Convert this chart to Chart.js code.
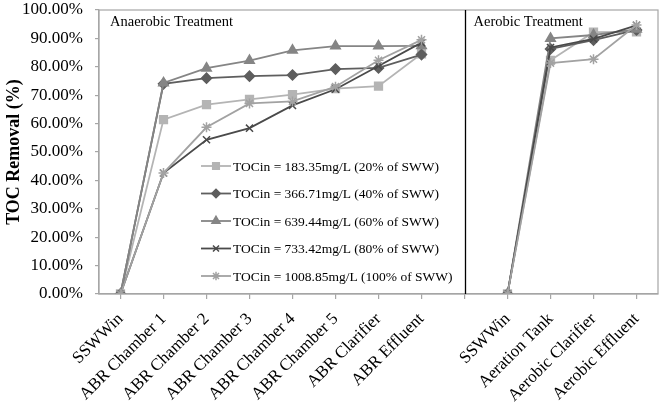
<!DOCTYPE html>
<html><head><meta charset="utf-8">
<script src="https://cdn.jsdelivr.net/npm/chart.js@4.4.0/dist/chart.umd.min.js"></script>
<style>html,body{margin:0;padding:0;background:#fff}#wrap{width:665px;height:409px}</style>
</head><body><div id="wrap"><canvas id="c" width="665" height="409"></canvas></div>
<script>
const categories = ['SSWWin','ABR Chamber 1','ABR Chamber 2','ABR Chamber 3','ABR Chamber 4','ABR Chamber 5','ABR Clarifier','ABR Effluent','','SSWWin','Aeration Tank','Aerobic Clarifier','Aerobic Effluent'];
const seriesNames = ['TOCin = 183.35mg/L (20% of SWW)','TOCin = 366.71mg/L (40% of SWW)','TOCin = 639.44mg/L (60% of SWW)','TOCin = 733.42mg/L (80% of SWW)','TOCin = 1008.85mg/L (100% of SWW)'];
const s20  = [0, 61.4, 66.7, 68.5, 70.2, 72.3, 73.2, 84.6, null, 0, 82.3, 92.2, 92.3];
const s40  = [0, 74.0, 76.0, 76.7, 77.1, 79.2, 79.6, 84.3, null, 0, 86.3, 89.4, 93.0];
const s60  = [0, 74.3, 79.5, 82.2, 85.8, 87.3, 87.3, 87.4, null, 0, 90.0, 91.2, 93.2];
const s80  = [0, 42.6, 54.3, 58.4, 66.4, 72.1, 80.3, 88.5, null, 0, 86.8, 89.8, 94.6];
const s100 = [0, 42.6, 58.7, 67.1, 67.8, 73.0, 82.3, 89.5, null, 0, 81.3, 82.7, 94.7];
const sectionLabels = ['Anaerobic Treatment','Aerobic Treatment'];
const yTicks = [0,10,20,30,40,50,60,70,80,90,100];

const styles = [
  {color:'#b4b4b4', pointStyle:'rect', radius:5.5},
  {color:'#5e5e5e', pointStyle:'rectRot', radius:5},
  {color:'#858585', pointStyle:'triangle', radius:5.5},
  {color:'#4a4a4a', pointStyle:'crossRot', radius:5},
  {color:'#a2a2a2', pointStyle:'star', radius:5}
];
const allData = [s20, s40, s60, s80, s100];
const datasets = allData.map((d,i)=>({
  label: seriesNames[i], data: d,
  borderColor: styles[i].color, backgroundColor: styles[i].color,
  pointStyle: styles[i].pointStyle, pointRadius: styles[i].radius,
  pointBorderColor: styles[i].color, pointBackgroundColor: styles[i].color,
  pointBorderWidth: 1.5, borderWidth: 1.8, spanGaps: false, tension: 0,
  order: 5 - i
}));

const serif = "'Liberation Serif','Times New Roman',serif";

const extras = {
  id: 'extras',
  afterDraw(chart) {
    const ctx = chart.ctx, a = chart.chartArea, xs = chart.scales.x;
    ctx.save();
    ctx.strokeStyle = '#a6a6a6'; ctx.lineWidth = 1.2;
    ctx.strokeRect(a.left, a.top, a.right - a.left, a.bottom - a.top);
    const sx = Math.round(xs.getPixelForValue(8)) + 0.5;
    ctx.strokeStyle = '#000'; ctx.lineWidth = 1.3;
    ctx.beginPath(); ctx.moveTo(sx, a.top); ctx.lineTo(sx, a.bottom); ctx.stroke();
    ctx.fillStyle = '#000'; ctx.font = "14.5px " + serif;
    ctx.textBaseline = 'middle'; ctx.textAlign = 'left';
    ctx.fillText(sectionLabels[0], a.left + 11, a.top + 12);
    ctx.fillText(sectionLabels[1], sx + 8, a.top + 12);
    const lx = a.left + 102, ly0 = a.top + 156, dy = 27.5;
    ctx.font = "13.5px " + serif;
    chart.data.datasets.forEach((ds, i) => {
      const y = ly0 + i * dy;
      ctx.strokeStyle = ds.borderColor; ctx.lineWidth = 1.8;
      ctx.beginPath(); ctx.moveTo(lx, y); ctx.lineTo(lx + 30, y); ctx.stroke();
      ctx.fillStyle = ds.borderColor; ctx.lineWidth = 1.5;
      Chart.helpers.drawPoint(ctx, {pointStyle: ds.pointStyle, radius: ds.pointRadius * 0.85, borderWidth: 1.5, rotation: 0}, lx + 15, y);
      ctx.fillStyle = '#000';
      ctx.fillText(ds.label, lx + 32, y + 1);
    });
    ctx.restore();
  }
};

new Chart(document.getElementById('c'), {
  type: 'line',
  data: { labels: categories, datasets },
  options: {
    responsive: false, animation: false,
    layout: { padding: { top: 10, right: 3, left: 0, bottom: 0 } },
    plugins: { legend: { display: false }, tooltip: { enabled: false } },
    scales: {
      x: {
        type: 'category', offset: true,
        grid: { offset: false, drawOnChartArea: false, color: '#a6a6a6', tickLength: 5, lineWidth: 1.2 },
        border: { color: '#a6a6a6', width: 1.2 },
        ticks: { autoSkip: false, minRotation: 45, maxRotation: 45, color: '#000', font: { family: serif, size: 17 }, padding: 10 },
        afterFit(s) { s.height = 115; s.paddingLeft = 0; s.paddingRight = 0; }
      },
      y: {
        min: 0, max: 100,
        afterBuildTicks(s) { s.ticks = yTicks.map(v => ({ value: v })); },
        grid: { drawOnChartArea: false, color: '#a6a6a6', tickLength: 4, lineWidth: 1.2 },
        border: { color: '#a6a6a6', width: 1.2 },
        ticks: { color: '#000', font: { family: serif, size: 17 }, padding: 12, callback: v => v.toFixed(2) + '%' },
        title: { display: true, text: 'TOC Removal (%)', color: '#000', font: { family: serif, size: 18, weight: 'bold' }, padding: { top: 4, bottom: 0 } },
        afterFit(s) { s.width = 99; s.paddingTop = 0; s.paddingBottom = 0; }
      }
    }
  },
  plugins: [extras]
});
</script></body></html>
